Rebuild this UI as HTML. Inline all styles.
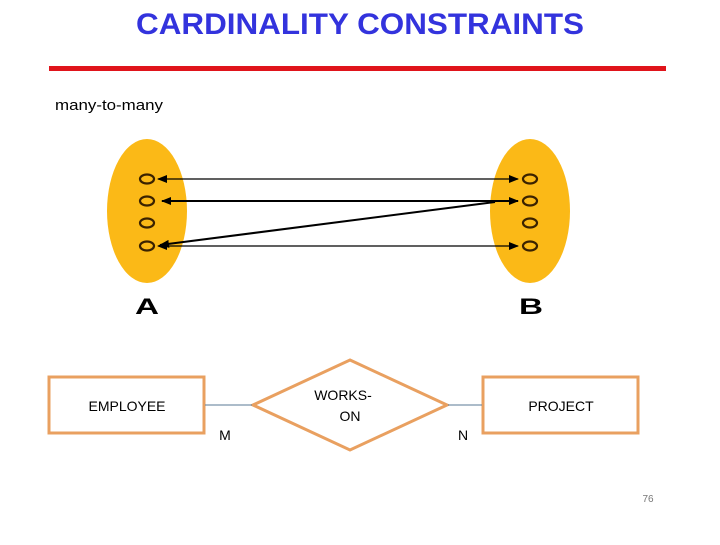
<!DOCTYPE html>
<html><head><meta charset="utf-8"><style>
body{margin:0;width:720px;height:540px;background:#fff;overflow:hidden}
</style></head><body>
<svg width="720" height="540" viewBox="0 0 720 540" xmlns="http://www.w3.org/2000/svg">
<defs>
<marker id="ah" markerWidth="10" markerHeight="8" refX="9" refY="4" orient="auto-start-reverse" markerUnits="userSpaceOnUse"><path d="M0,0 L10,4 L0,8 Z" fill="#000"/></marker>
</defs>
<text x="360" y="34" text-anchor="middle" font-family="Liberation Sans, sans-serif" font-weight="bold" font-size="30" textLength="448" lengthAdjust="spacingAndGlyphs" fill="#3333dd">CARDINALITY CONSTRAINTS</text>
<rect x="49" y="66" width="617" height="5" fill="#e0141b"/>
<text x="55" y="110" font-family="Liberation Sans, sans-serif" font-size="15" textLength="108" lengthAdjust="spacingAndGlyphs" fill="#000">many-to-many</text>

<ellipse cx="147" cy="211" rx="40" ry="72" fill="#fbb917"/>
<ellipse cx="530" cy="211" rx="40" ry="72" fill="#fbb917"/>
<g fill="none" stroke="#3a2200" stroke-width="2.2">
<ellipse cx="147" cy="179" rx="7" ry="4.5"/><ellipse cx="147" cy="201" rx="7" ry="4.5"/>
<ellipse cx="147" cy="223" rx="7" ry="4.5"/><ellipse cx="147" cy="246" rx="7" ry="4.5"/>
<ellipse cx="530" cy="179" rx="7" ry="4.5"/><ellipse cx="530" cy="201" rx="7" ry="4.5"/>
<ellipse cx="530" cy="223" rx="7" ry="4.5"/><ellipse cx="530" cy="246" rx="7" ry="4.5"/>
</g>
<g stroke="#000" fill="none">
<line x1="158" y1="179" x2="518" y2="179" stroke-width="1.2" marker-start="url(#ah)" marker-end="url(#ah)"/>
<line x1="162" y1="201" x2="518" y2="201" stroke-width="2" marker-start="url(#ah)" marker-end="url(#ah)"/>
<line x1="495" y1="202" x2="160" y2="245" stroke-width="2" marker-end="url(#ah)"/>
<line x1="158" y1="246" x2="518" y2="246" stroke-width="1.2" marker-start="url(#ah)" marker-end="url(#ah)"/>
</g>
<text x="147" y="314" text-anchor="middle" font-family="Liberation Sans, sans-serif" font-weight="bold" font-size="22" textLength="24" lengthAdjust="spacingAndGlyphs">A</text>
<text x="531" y="314" text-anchor="middle" font-family="Liberation Sans, sans-serif" font-weight="bold" font-size="22" textLength="24" lengthAdjust="spacingAndGlyphs">B</text>

<g stroke="#e9a060" stroke-width="3" fill="none">
<rect x="49" y="377" width="155" height="56"/>
<rect x="483" y="377" width="155" height="56"/>
<polygon points="350,360 447,405 350,450 253,405"/>
</g>
<g stroke="#5a7a96" stroke-width="1">
<line x1="205" y1="405" x2="252" y2="405"/><line x1="448" y1="405" x2="482" y2="405"/>
</g>
<g font-family="Liberation Sans, sans-serif" font-size="14" fill="#000" text-anchor="middle">
<text x="127" y="411">EMPLOYEE</text>
<text x="561" y="411">PROJECT</text>
<text x="343" y="400">WORKS-</text>
<text x="350" y="421">ON</text>
<text x="225" y="440">M</text>
<text x="463" y="440">N</text>
</g>
<text x="648" y="502" text-anchor="middle" font-family="Liberation Sans, sans-serif" font-size="10" fill="#777">76</text>
</svg>
</body></html>
